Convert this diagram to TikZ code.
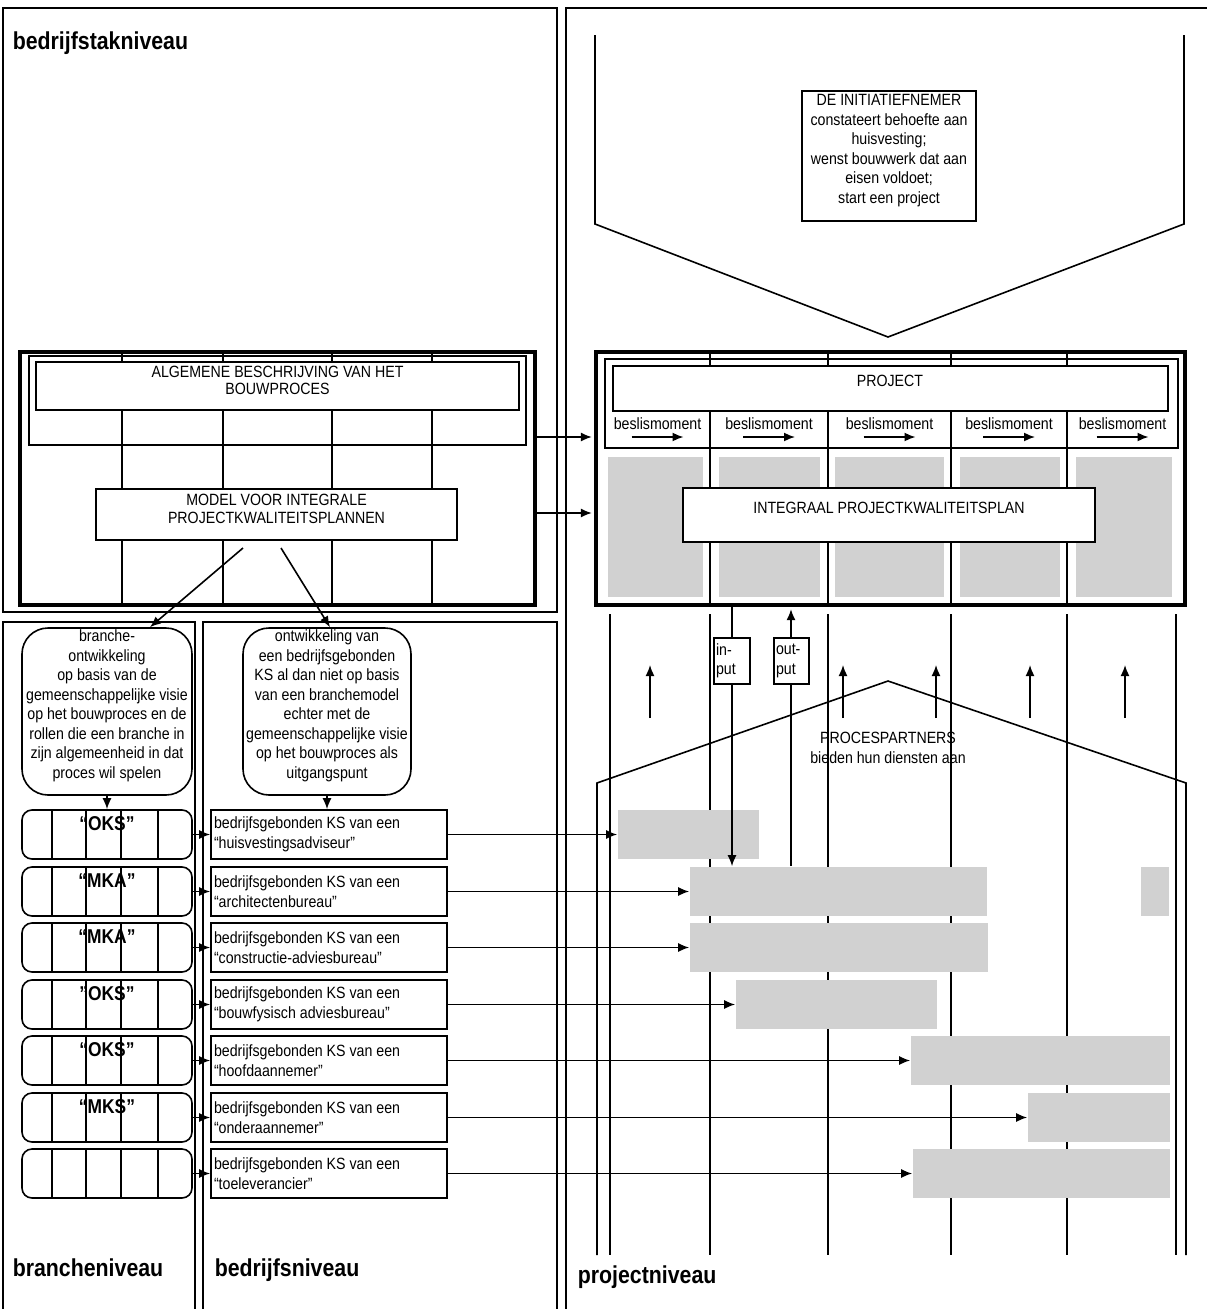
\documentclass[tikz,border=0pt]{standalone}
\usepackage{fontspec}
\setmainfont[FakeStretch=0.87]{Liberation Sans}
\usetikzlibrary{arrows.meta,fit}
\definecolor{boxgray}{gray}{0.82}
\newcommand\myfs{\fontsize{16.3}{19.5}\selectfont}
\newcommand\myfsb{\fontsize{16.3}{17.5}\selectfont}
\newcommand\mytitle{\fontsize{24.5}{28}\selectfont\bfseries}
\begin{document}
\begin{tikzpicture}[x=1pt,y=-1pt,line width=1.6pt,
  tip/.style={-{Latex[length=11pt,width=9pt]}},
  pane/.style={line width=1.7pt},
  thickbox/.style={draw,line width=4.2pt,inner sep=0pt},
  wbox/.style={draw,fill=white,inner sep=0pt,font=\myfs,align=center},
  gbox/.style={fill=boxgray,inner sep=0pt},
  rbox/.style={draw,rounded corners=10pt,inner sep=0pt},
  bubble/.style={draw,fill=white,rounded corners=26pt,inner sep=0pt,font=\myfs,align=center},
  txt/.style={inner sep=0pt,font=\myfs,align=center},
  ttl/.style={inner sep=0pt,font=\mytitle,anchor=base west},
  okslab/.style={inner sep=0pt,font=\fontsize{20}{24}\selectfont\bfseries},
]
\useasboundingbox (0,0) rectangle (1207,1309);
\fill[white] (0,0) rectangle (1207,1309);

% panels
\draw[pane] (3,8) rectangle (557,612);
\draw[pane] (3,1309) -- (3,622) -- (195,622) -- (195,1309);
\draw[pane] (203,1309) -- (203,622) -- (557,622) -- (557,1309);
\draw[pane] (566,1309) -- (566,8) -- (1207,8);

\node[ttl] (t1) at (12,49) {bedrijfstakniveau};
\node[ttl] (t2) at (12,1276) {brancheniveau};
\node[ttl] (t3) at (214,1276) {bedrijfsniveau};
\node[ttl] (t4) at (577,1283) {projectniveau};

% left block
\foreach \x in {122,223,332,432} \draw (\x,352) -- (\x,605);
\draw (29,356) rectangle (526,445);
\node[thickbox, fit={(20,352)(535,605)}] (bouw) {};
\node[wbox, fit={(36,362)(519,410)}, font=\myfsb] (alg) {ALGEMENE BESCHRIJVING VAN HET\\BOUWPROCES};
\node[wbox, fit={(96,489)(457,540)}, font=\myfsb] (model) {MODEL VOOR INTEGRALE\\PROJECTKWALITEITSPLANNEN};

% initiatiefnemer
\draw (595,35) -- (595,224) -- (888,337) -- (1184,224) -- (1184,35);
\node[wbox, fit={(802,91)(976,221)}] (init) {DE INITIATIEFNEMER\\constateert behoefte aan\\huisvesting;\\wenst bouwwerk dat aan\\eisen voldoet;\\start een project};

% project block
\foreach \x in {710,828,951,1067} \draw (\x,352) -- (\x,605);
\draw (605,359) rectangle (1178,448);
\node[gbox, fit={(608,457)(703,597)}] (pc1) {};
\node[gbox, fit={(719,457)(820,597)}] (pc2) {};
\node[gbox, fit={(835,457)(944,597)}] (pc3) {};
\node[gbox, fit={(960,457)(1060,597)}] (pc4) {};
\node[gbox, fit={(1076,457)(1172,597)}] (pc5) {};
\node[thickbox, fit={(596,352)(1185,605)}] (proj) {};
\node[wbox, fit={(613,366)(1168,411)}] (projbox) {};
\node[txt] (projt) at (890,381) {PROJECT};
\foreach \c [count=\i] in {657.5,769,889.5,1009,1122.5} {
  \node[txt] (bm\i) at (\c,424) {beslismoment};
  \draw[tip] (\c-26,437) -- (\c+26,437);
}
\node[wbox, fit={(683,488)(1095,542)}] (ipkp) {};
\node[txt] (ipkpt) at (889,508) {INTEGRAAL PROJECTKWALITEITSPLAN};

\coordinate (ya) at (0,437);
\coordinate (yb) at (0,513);
\draw[tip,shorten >=2pt] (bouw.east |- ya) -- (proj.west |- ya);
\draw[tip,shorten >=2pt] (bouw.east |- yb) -- (proj.west |- yb);

% lower right
\foreach \x in {610,710,828,951,1067,1176} \draw (\x,614) -- (\x,1255);
\draw (597,1255) -- (597,783) -- (888,681) -- (1186,783) -- (1186,1255);
\foreach \x in {650,843,936,1030,1125} \draw[tip] (\x,718) -- (\x,665);
\node[txt] (pp) at (888,748) {PROCESPARTNERS\\bieden hun diensten aan};

% rows
\foreach \t/\lab/\nm/\ga/\gb [count=\i] in {
  810/{“OKS”}/{“huisvestingsadviseur”}/618/759,
  867/{“MKA”}/{“architectenbureau”}/690/987,
  923/{“MKA”}/{“constructie-adviesbureau”}/690/988,
  980/{"OKS"}/{“bouwfysisch adviesbureau”}/736/937,
  1036/{“OKS”}/{“hoofdaannemer”}/911/1170,
  1093/{“MKS”}/{“onderaannemer”}/1028/1170,
  1149/{}/{“toeleverancier”}/913/1170} {
  \node[rbox, fit={(22,\t)(192,\t+49)}] (oks\i) {};
  \foreach \x in {52,86,121,158} \draw (\x,\t) -- (\x,\t+49);
  \node[okslab] (okl\i) at (107,\t+14) {\lab};
  \node[draw, inner sep=0pt, fit={(211,\t)(447,\t+49)}] (bed\i) {};
  \node[txt, align=left, anchor=west] (bedt\i) at ([xshift=3pt]bed\i.west) {bedrijfsgebonden KS van een\\\nm};
  \node[gbox, fit={(\ga,\t)(\gb,\t+49)}] (g\i) {};
  \draw[tip] (oks\i.east) -- (bed\i.west);
  \draw[tip] (bed\i.east) -- (g\i.west);
}
\node[gbox, fit={(1141,867)(1169,916)}] (g2b) {};

% input / output
\coordinate (inx) at (732,0);
\coordinate (outx) at (791,0);
\draw[tip] (inx |- proj.south) -- (inx |- g2.north);
\draw[tip,shorten >=2pt] (outx |- g2.north) -- (outx |- proj.south);
\node[draw, fill=white, inner sep=0pt, fit={(714,638)(750,684)}] (inb) {};
\node[txt, align=left, anchor=west] (inbt) at ([xshift=2pt]inb.west) {in-\\put};
\node[draw, fill=white, inner sep=0pt, fit={(774,638)(809,684)}] (outb) {};
\node[txt, align=left, anchor=west] (outbt) at ([xshift=2pt]outb.west) {out-\\put};

% bubbles
\node[bubble, fit={(22,628)(192,795)}] (branche) {branche-\\ontwikkeling\\op basis van de\\gemeenschappelijke visie\\op het bouwproces en de\\rollen die een branche in\\zijn algemeenheid in dat\\proces wil spelen};
\node[bubble, fit={(243,628)(411,795)}] (ontw) {ontwikkeling van\\een bedrijfsgebonden\\KS al dan niet op basis\\van een branchemodel\\echter met de\\gemeenschappelijke visie\\op het bouwproces als\\uitgangspunt};
\coordinate (m1) at (243,548);
\coordinate (m2) at (281,548);
\draw[tip] (m1) -- ([xshift=43pt]branche.north);
\draw[tip] (m2) -- ([xshift=3pt]ontw.north);
\draw[tip] (branche.south) -- (oks1.north);
\draw[tip] (ontw.south) -- (ontw.south |- bed1.north);
\end{tikzpicture}
\end{document}
